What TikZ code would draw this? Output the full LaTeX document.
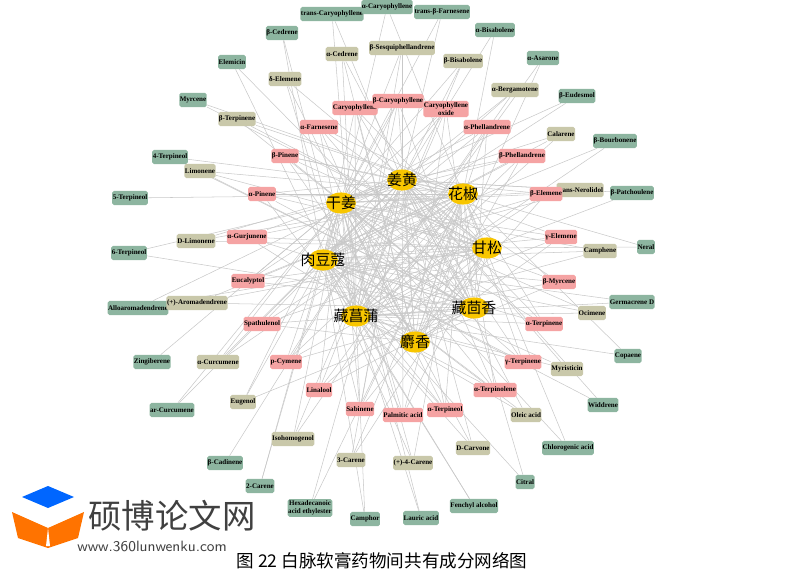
\documentclass[tikz,border=0pt]{standalone}
\usepackage{fontspec}
\setmainfont{Liberation Serif}
\newfontfamily\cjk{Noto Sans CJK SC}
\usetikzlibrary{backgrounds,shapes.geometric}
\definecolor{outerg}{HTML}{8DB5A0}
\definecolor{midt}{HTML}{C9C8AA}
\definecolor{innerp}{HTML}{F5A3A3}
\definecolor{herby}{HTML}{F8C600}
\definecolor{edgec}{HTML}{C8C8C8}
\tikzset{
  cpd/.style={rectangle, rounded corners=1pt, inner xsep=0.3pt, inner ysep=1pt, minimum height=8,
    font=\fontsize{4}{4.4}\selectfont\bfseries, align=center},
  gcpd/.style={cpd, fill=outerg},
  tcpd/.style={cpd, fill=midt},
  pcpd/.style={cpd, fill=innerp},
  herb/.style={ellipse, fill=herby, inner sep=0pt, minimum width=17, minimum height=12,
    label={[font=\cjk\fontsize{8.5}{8.5}\selectfont]center:#1}},
  edge/.style={draw=edgec, line width=0.3pt}
}
\begin{document}
\begin{tikzpicture}[x=0.02cm, y=-0.02cm]
\useasboundingbox (0,0) rectangle (793,580);
% herbs
\node[herb=姜黄] (jh) at (402,180) {};
\node[herb=花椒] (hj) at (463,194) {};
\node[herb=干姜] (gj) at (341,203) {};
\node[herb=甘松] (gs) at (487,248) {};
\node[herb=肉豆蔻] (rdk) at (323,260) {};
\node[herb=藏茴香] (zhx) at (474,308) {};
\node[herb=藏菖蒲] (zcp) at (356,316) {};
\node[herb=麝香] (sx) at (415,342) {};

% outer ring
\node[gcpd] (tCaryo) at (332,14) {trans-Caryophyllene};
\node[gcpd] (aCaryo) at (387,7) {α-Caryophyllene};
\node[gcpd] (tbFarn) at (442,12) {trans-β-Farnesene};
\node[gcpd] (bCedr) at (282,33) {β-Cedrene};
\node[gcpd] (aBisa) at (495,30) {α-Bisabolene};
\node[gcpd] (Elem) at (232,62) {Elemicin};
\node[gcpd] (aAsar) at (543,58) {α-Asarone};
\node[gcpd] (Myrc) at (193,100) {Myrcene};
\node[gcpd] (bEude) at (577,96) {β-Eudesmol};
\node[gcpd] (Terp4) at (170,157) {4-Terpineol};
\node[gcpd] (bBour) at (615,141) {β-Bourbonene};
\node[gcpd] (Terp5) at (130,198) {5-Terpineol};
\node[gcpd] (bPatc) at (632,193) {β-Patchoulene};
\node[gcpd] (Terp6) at (129,253) {6-Terpineol};
\node[gcpd] (Neral) at (646,247) {Neral};
\node[gcpd] (Allo) at (138,308) {Alloaromadendrene};
\node[gcpd] (GermD) at (632,302) {Germacrene D};
\node[gcpd] (Zing) at (152,362) {Zingiberene};
\node[gcpd] (Copa) at (628,356) {Copaene};
\node[gcpd] (arCurc) at (172,410) {ar-Curcumene};
\node[gcpd] (Widd) at (603,405) {Widdrene};
\node[gcpd] (Chlor) at (568,448) {Chlorogenic acid};
\node[gcpd] (bCadi) at (225,463) {β-Cadinene};
\node[gcpd] (Citral) at (525,482) {Citral};
\node[gcpd] (Car2) at (260,486) {2-Carene};
\node[gcpd] (Fench) at (474,506) {Fenchyl alcohol};
\node[gcpd] (Hexa) at (310,508) {Hexadecanoic\\acid ethylester};
\node[gcpd] (Camph) at (365,519) {Camphor};
\node[gcpd] (Laur) at (421,518) {Lauric acid};

% middle ring
\node[tcpd] (aCedr) at (342,54) {α-Cedrene};
\node[tcpd] (bSesq) at (402,48) {β-Sesquiphellandrene};
\node[tcpd] (bBisa) at (463,61) {β-Bisabolene};
\node[tcpd] (dElem) at (285,79) {δ-Elemene};
\node[tcpd] (aBerg) at (515,90) {α-Bergamotene};
\node[tcpd] (bTerp) at (237,119) {β-Terpinene};
\node[tcpd] (Calar) at (561,134) {Calarene};
\node[tcpd] (Limo) at (200,171) {Limonene};
\node[tcpd] (tNero) at (580,190) {trans-Nerolidol};
\node[tcpd] (DLimo) at (196,241) {D-Limonene};
\node[tcpd] (Camphe) at (600,251) {Camphene};
\node[tcpd] (pArom) at (197,303) {(+)-Aromadendrene};
\node[tcpd] (Ocim) at (592,313) {Ocimene};
\node[tcpd] (aCurc) at (218,362) {α-Curcumene};
\node[tcpd] (Myri) at (567,369) {Myristicin};
\node[tcpd] (Euge) at (243,402) {Eugenol};
\node[tcpd] (Oleic) at (526,415) {Oleic acid};
\node[tcpd] (Isoh) at (293,439) {Isohomogenol};
\node[tcpd] (DCarv) at (473,448) {D-Carvone};
\node[tcpd] (Car3) at (351,460) {3-Carene};
\node[tcpd] (Car4) at (413,463) {(+)-4-Carene};

% inner ring
\node[pcpd] (Caryo) at (355,108) {Caryophyllene};
\node[pcpd] (bCaryo) at (398,101) {β-Caryophyllene};
\node[pcpd] (CaryOx) at (446,109) {Caryophyllene\\oxide};
\node[pcpd] (aFarn) at (319,127) {α-Farnesene};
\node[pcpd] (aPhel) at (487,127) {α-Phellandrene};
\node[pcpd] (bPine) at (285,156) {β-Pinene};
\node[pcpd] (bPhel) at (522,156) {β-Phellandrene};
\node[pcpd] (aPine) at (262,194) {α-Pinene};
\node[pcpd] (bElem) at (546,194) {β-Elemene};
\node[pcpd] (aGurj) at (247,237) {α-Gurjunene};
\node[pcpd] (gElem) at (561,237) {γ-Elemene};
\node[pcpd] (Euca) at (248,281) {Eucalyptol};
\node[pcpd] (bMyrc) at (559,282) {β-Myrcene};
\node[pcpd] (Spat) at (262,324) {Spathulenol};
\node[pcpd] (aTerp) at (544,324) {α-Terpinene};
\node[pcpd] (pCym) at (286,362) {p-Cymene};
\node[pcpd] (gTerp) at (523,362) {γ-Terpinene};
\node[pcpd] (Lina) at (319,390) {Linalool};
\node[pcpd] (aTerpo) at (495,390) {α-Terpinolene};
\node[pcpd] (Sabi) at (360,409) {Sabinene};
\node[pcpd] (Palm) at (403,415) {Palmitic acid};
\node[pcpd] (aTerpi) at (445,410) {α-Terpineol};

% connectors
\begin{scope}[on background layer]
\foreach \a/\b in {jh/hj,jh/gj,jh/gs,jh/rdk,jh/zhx,jh/zcp,jh/sx,hj/gj,hj/gs,hj/rdk,hj/zhx,hj/zcp,hj/sx,
  gj/gs,gj/rdk,gj/zhx,gj/zcp,gj/sx,gs/rdk,gs/zhx,gs/zcp,gs/sx,rdk/zhx,rdk/zcp,rdk/sx,zhx/zcp,zhx/sx,zcp/sx}
  \draw[edge] (\a) -- (\b);
\foreach \n/\hs in {tCaryo/{jh,zcp},aCaryo/{hj,gj},tbFarn/{jh,gj},bCedr/{zcp,rdk},aBisa/{jh,hj},
  Elem/{zcp,zhx},aAsar/{zcp,sx},Myrc/{gs,hj},bEude/{gj,rdk},Terp4/{zhx,hj},bBour/{rdk,zcp},
  Terp5/{hj},bPatc/{gs,jh},Terp6/{zhx,gj},Neral/{gs,hj},Allo/{jh,gs},GermD/{rdk,zcp},
  Zing/{gj},Copa/{zcp,hj},arCurc/{gj,jh},Widd/{jh,rdk},Chlor/{gj,hj},bCadi/{jh},Citral/{rdk,zhx},
  Car2/{gj,rdk},Fench/{zcp,rdk},Hexa/{jh,hj},Camph/{rdk,zcp},Laur/{zcp,gj},
  aCedr/{zcp,zhx,sx},bSesq/{jh,gj,zcp},bBisa/{jh,gj,zcp},dElem/{zcp,gs,sx},aBerg/{jh,rdk,zcp},
  bTerp/{gs,hj,zhx},Calar/{gj,zcp,rdk},Limo/{hj,gs,zhx},tNero/{jh,gj,rdk},DLimo/{gs,hj,jh},
  Camphe/{rdk,zcp,gj},pArom/{hj,gs,zhx},Ocim/{rdk,zcp,gj},aCurc/{jh,gj,hj},Myri/{zcp,rdk,jh},
  Euge/{gj,zhx,rdk},Oleic/{zcp,rdk,jh},Isoh/{jh,gj,hj},DCarv/{jh,zcp,gj},Car3/{hj,gs,jh},Car4/{rdk,hj,gj},
  Caryo/{zcp,sx,zhx,rdk,gs},bCaryo/{zcp,sx,rdk,zhx,gj},CaryOx/{zcp,rdk,gj,sx,zhx},
  aFarn/{hj,gs,zhx,sx,zcp},aPhel/{gj,rdk,zcp,sx,zhx},bPine/{hj,gs,zhx,sx,jh},bPhel/{gj,rdk,zcp,sx,jh},
  aPine/{hj,gs,zhx,jh,zcp},bElem/{gj,rdk,zcp,jh,sx},aGurj/{hj,gs,jh,zhx,sx},gElem/{rdk,zcp,gj,jh,sx},
  Euca/{hj,gs,zhx,jh,gj},bMyrc/{rdk,zcp,gj,jh,sx},Spat/{gs,zhx,hj,sx,jh},aTerp/{rdk,zcp,gj,jh,hj},
  pCym/{jh,hj,gs,zhx,gj},gTerp/{rdk,zcp,gj,jh,hj},Lina/{jh,hj,gs,zhx,gj},aTerpo/{rdk,zcp,gj,jh,hj},
  Sabi/{jh,hj,gs,gj,rdk},Palm/{jh,hj,gj,rdk,gs},aTerpi/{jh,gj,rdk,zcp,hj}}
  \foreach \h in \hs {\draw[edge] (\n) -- (\h);}
\end{scope}

% watermark and caption
\fill[blue!60!cyan] (22,497) -- (48,486) -- (74,497) -- (48,508) -- cycle;
\fill[orange!90!red] (12,512) -- (48,528) -- (84,512) -- (78,538) -- (48,548) -- (18,538) -- cycle;
\fill[white] (48,528) -- (50,546) -- (46,546) -- cycle;
\node[font=\cjk\fontsize{19}{19}\selectfont, text=black!75] (logo) at (172,516) {硕博论文网};
\node[font=\sffamily\fontsize{8.5}{8.5}\selectfont, text=black!75] (site) at (152,546) {www.360lunwenku.com};
\node[font=\cjk\fontsize{10}{10}\selectfont] (cap) at (382,561) {图 22 白脉软膏药物间共有成分网络图};
\end{tikzpicture}
\end{document}
